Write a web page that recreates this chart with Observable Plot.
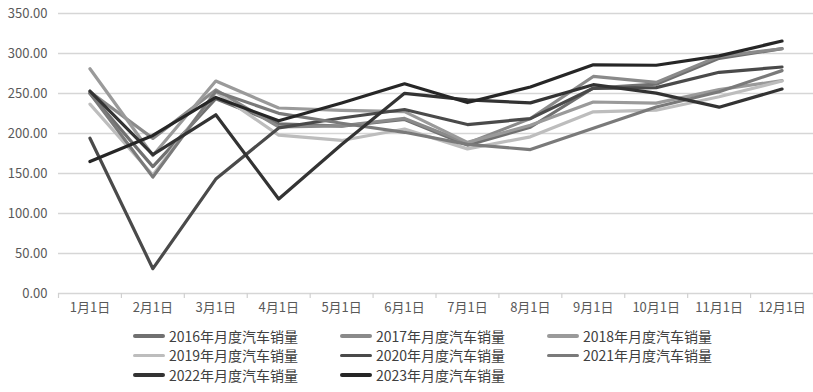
<!DOCTYPE html>
<html>
<head>
<meta charset="utf-8">
<script src="https://cdn.jsdelivr.net/npm/d3@7"></script>
<script src="https://cdn.jsdelivr.net/npm/@observablehq/plot@0.6"></script>
<style>
  body { margin: 0; background: #fff; font-family: "Noto Sans CJK SC", "Noto Sans", sans-serif; }
  #chart svg { display: block; }
  #legend { display: grid; grid-template-columns: 207px 207px 207px; padding-left: 133px; padding-top: 4px; row-gap: 0px; }
  .item { display: flex; align-items: center; height: 19.5px; font-size: 14px; color: #404040; white-space: nowrap; }
  .sw { display: inline-block; width: 32px; height: 3.5px; margin-right: 4px; border-radius: 2px; }
</style>
</head>
<body>
<div id="chart"></div>
<div id="legend"></div>
<script>
const months = ["1月1日","2月1日","3月1日","4月1日","5月1日","6月1日","7月1日","8月1日","9月1日","10月1日","11月1日","12月1日"];
const yTicks = [0, 50, 100, 150, 200, 250, 300, 350];

const s2016 = [250.1, 158.6, 243.5, 212.2, 209.2, 217.5, 185.5, 207.8, 256.9, 261.6, 293.9, 306.0];
const s2017 = [252.1, 193.9, 254.4, 208.4, 209.6, 218.8, 187.8, 218.6, 271.3, 263.9, 296.5, 305.9];
const s2018 = [280.9, 172.5, 265.6, 231.9, 228.8, 227.4, 188.9, 210.3, 239.4, 238.0, 254.8, 266.1];
const s2019 = [236.7, 148.2, 252.0, 198.0, 191.3, 205.6, 180.8, 195.8, 227.1, 229.1, 245.9, 265.6];
const s2020 = [194.1, 31.0, 143.0, 207.0, 219.4, 230.0, 211.2, 218.6, 256.5, 257.3, 276.5, 283.1];
const s2021 = [250.3, 145.5, 252.6, 225.2, 212.8, 201.5, 186.4, 179.9, 206.7, 233.2, 252.2, 278.6];
const s2022 = [253.1, 173.7, 223.4, 118.1, 186.2, 250.2, 242.0, 238.3, 261.0, 250.5, 232.9, 255.6];
const s2023 = [164.9, 197.6, 245.1, 215.9, 238.2, 262.2, 238.7, 258.2, 285.8, 285.3, 297.0, 315.6];

const seriesNames = ["2016年月度汽车销量","2017年月度汽车销量","2018年月度汽车销量","2019年月度汽车销量","2020年月度汽车销量","2021年月度汽车销量","2022年月度汽车销量","2023年月度汽车销量"];
const seriesValues = [s2016, s2017, s2018, s2019, s2020, s2021, s2022, s2023];
const seriesColors = ["#707070", "#8a8a8a", "#9a9a9a", "#bdbdbd", "#4a4a4a", "#7a7a7a", "#333333", "#262626"];

const rows = seriesNames.flatMap((name, k) => seriesValues[k].map((v, i) => ({name, m: i + 1, v})));
const monthIdx = months.map((_, i) => i + 1);
const edges = d3.range(0, 13).map(i => i + 0.5);

const chart = Plot.plot({
  width: 813,
  height: 322,
  marginTop: 13,
  marginBottom: 29,
  marginLeft: 58,
  marginRight: 0,
  style: { fontFamily: '"Noto Sans CJK SC", "Noto Sans", sans-serif', fontSize: "13px", background: "#fff", color: "#595959" },
  x: { domain: [0.5, 12.5], axis: null },
  y: { domain: [0, 350], axis: null },
  color: { domain: seriesNames, range: seriesColors },
  marks: [
    Plot.ruleY(yTicks, { stroke: "#d6d6d6", strokeWidth: 1.5 }),
    Plot.axisY({ ticks: yTicks, tickSize: 0, tickPadding: 11, tickFormat: d => d.toFixed(2), fill: "#595959", fontSize: 13, label: null }),
    Plot.axisX(edges, { tickSize: 5, tickFormat: () => "", stroke: "#d0d0d0", strokeWidth: 1.2, label: null }),
    Plot.axisX(monthIdx, { tickSize: 0, tickPadding: 9, tickFormat: i => months[i - 1], fill: "#595959", fontSize: 13, label: null }),
    Plot.line(rows, { x: "m", y: "v", z: "name", stroke: "name", strokeWidth: 3.2, strokeLinejoin: "round", strokeLinecap: "round" })
  ]
});
document.getElementById("chart").appendChild(chart);

const legend = document.getElementById("legend");
seriesNames.forEach((name, k) => {
  const item = document.createElement("div");
  item.className = "item";
  const sw = document.createElement("span");
  sw.className = "sw";
  sw.style.background = seriesColors[k];
  item.appendChild(sw);
  item.appendChild(document.createTextNode(name));
  legend.appendChild(item);
});
</script>
</body>
</html>
